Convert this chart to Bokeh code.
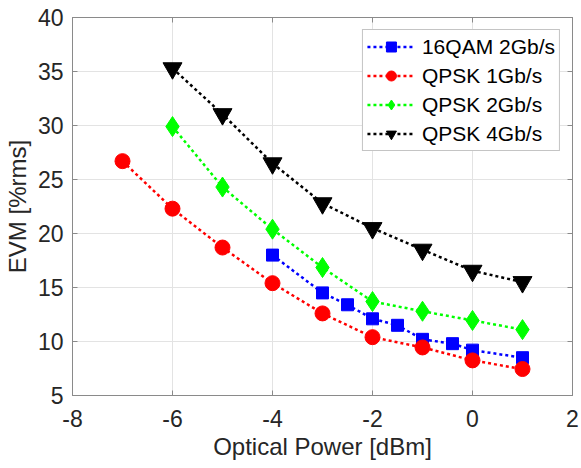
from bokeh.plotting import figure
from bokeh.models import Range1d, LinearAxis, FixedTicker, Legend, LegendItem, CustomJSTickFormatter
from bokeh.embed import file_html
from bokeh.resources import INLINE

# Data
x_16qam = [-4, -3, -2.5, -2, -1.5, -1, -0.4, 0, 1]
evm_16qam = [18.0, 14.5, 13.4, 12.1, 11.5, 10.2, 9.8, 9.2, 8.5]

x_qpsk1 = [-7, -6, -5, -4, -3, -2, -1, 0, 1]
evm_qpsk1 = [26.7, 22.3, 18.7, 15.4, 12.6, 10.4, 9.45, 8.25, 7.45]

x_qpsk2 = [-6, -5, -4, -3, -2, -1, 0, 1]
evm_qpsk2 = [29.9, 24.3, 20.4, 16.85, 13.7, 12.8, 11.95, 11.1]

x_qpsk4 = [-6, -5, -4, -3, -2, -1, 0, 1]
evm_qpsk4 = [35.3, 31.05, 26.5, 22.8, 20.5, 18.5, 16.55, 15.5]

x_ticks = [-8, -6, -4, -2, 0, 2]
y_ticks = [5, 10, 15, 20, 25, 30, 35, 40]

FONT = "Liberation Sans"
TXT = "#262626"
AX = "#8a8a8a"

p = figure(width=581, height=468, output_backend="svg", toolbar_location=None,
           x_range=Range1d(-8, 2), y_range=Range1d(5, 40),
           min_border_left=72, min_border_right=9, min_border_top=17,
           min_border_bottom=73)
p.background_fill_color = "white"
p.border_fill_color = "white"
p.outline_line_color = AX
p.outline_line_width = 1

fmt = "return tick.toString();"
for ax, ticks in ((p.xaxis[0], x_ticks), (p.yaxis[0], y_ticks)):
    ax.ticker = FixedTicker(ticks=ticks)
    ax.formatter = CustomJSTickFormatter(code=fmt)
    ax.major_label_text_font = FONT
    ax.major_label_text_font_size = "23px"
    ax.major_label_text_color = TXT
    ax.axis_label_text_font = FONT
    ax.axis_label_text_font_size = "24px"
    ax.axis_label_text_font_style = "normal"
    ax.axis_label_text_color = TXT
    ax.axis_line_color = AX
    ax.major_tick_line_color = AX
    ax.major_tick_in = 5
    ax.major_tick_out = 0
    ax.minor_tick_line_color = None

p.xaxis.axis_label = "Optical Power [dBm]"
p.yaxis.axis_label = "EVM [%rms]"
p.xaxis.major_label_standoff = 14
p.xaxis.axis_label_standoff = 3
p.yaxis.major_label_standoff = 9
p.yaxis.axis_label_standoff = 4

# box ticks on top and right
top_ax = LinearAxis(ticker=FixedTicker(ticks=x_ticks), major_label_text_font_size="0px",
                    major_label_standoff=0, major_tick_in=5, major_tick_out=0,
                    axis_line_color=AX, major_tick_line_color=AX,
                    minor_tick_line_color=None)
right_ax = LinearAxis(ticker=FixedTicker(ticks=y_ticks), major_label_text_font_size="0px",
                      major_label_standoff=0, major_tick_in=5, major_tick_out=0,
                      axis_line_color=AX, major_tick_line_color=AX,
                      minor_tick_line_color=None)
p.add_layout(top_ax, "above")
p.add_layout(right_ax, "right")

p.xgrid.ticker = FixedTicker(ticks=x_ticks)
p.ygrid.ticker = FixedTicker(ticks=y_ticks)
p.grid.grid_line_color = "#e3e3e3"
p.grid.grid_line_width = 1

DASH = "3 3"
LW = 2.5

l1 = p.line(x_16qam, evm_16qam, line_color="#0000ff", line_width=LW, line_dash=DASH)
m1 = p.scatter(x_16qam, evm_16qam, marker="square", size=12, fill_color="#0000ff", line_color="#0000ff")
l2 = p.line(x_qpsk1, evm_qpsk1, line_color="#ff0000", line_width=LW, line_dash=DASH)
m2 = p.scatter(x_qpsk1, evm_qpsk1, marker="circle", size=15, fill_color="#ff0000", line_color="#ff0000")
l3 = p.line(x_qpsk2, evm_qpsk2, line_color="#00ff00", line_width=LW, line_dash=DASH)
m3 = p.scatter(x_qpsk2, evm_qpsk2, marker="diamond", size=20, fill_color="#00ff00", line_color="#00ff00")
l4 = p.line(x_qpsk4, evm_qpsk4, line_color="#000000", line_width=LW, line_dash=DASH)
m4 = p.scatter(x_qpsk4, evm_qpsk4, marker="inverted_triangle", size=19, fill_color="#000000", line_color="#000000")

legend = Legend(items=[
    LegendItem(label="16QAM 2Gb/s", renderers=[l1, m1]),
    LegendItem(label="QPSK 1Gb/s", renderers=[l2, m2]),
    LegendItem(label="QPSK 2Gb/s", renderers=[l3, m3]),
    LegendItem(label="QPSK 4Gb/s", renderers=[l4, m4]),
], location="top_right", margin=12, padding=4, spacing=4,
   label_height=25, glyph_height=25, glyph_width=48, label_standoff=7,
   label_text_font=FONT, label_text_font_size="21px", label_text_color="#000000",
   border_line_color=AX, border_line_width=1, background_fill_alpha=1.0)
p.add_layout(legend, "center")

open("out.html", "w").write(file_html(p, INLINE))
